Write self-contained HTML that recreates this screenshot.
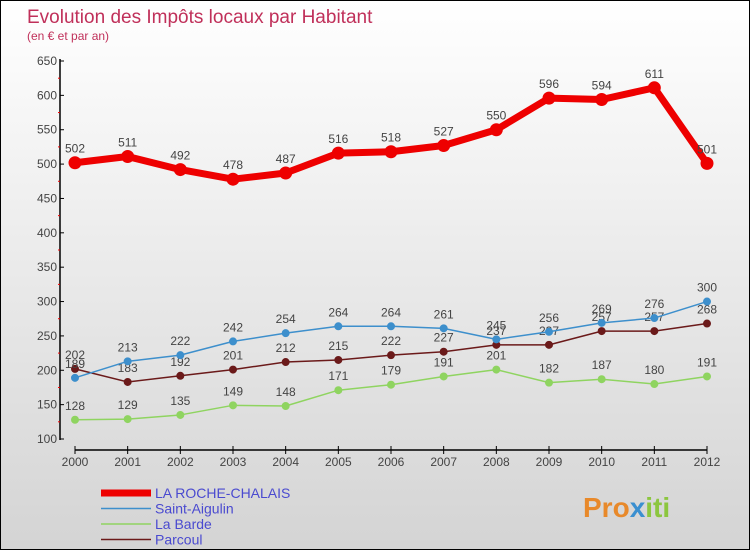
<!DOCTYPE html>
<html><head><meta charset="utf-8"><style>
body{margin:0;}
#c{position:relative;width:748px;height:548px;border:1px solid #000;background:linear-gradient(#fff,#d4d4d4);font-family:"Liberation Sans",sans-serif;overflow:hidden}
</style></head><body>
<div id="c">
<svg id="s" width="748" height="548" xmlns="http://www.w3.org/2000/svg">
<text x="26" y="22" font-size="19" fill="#c0305a">Evolution des Impôts locaux par Habitant</text>
<text x="26" y="39" font-size="12" fill="#c0305a">(en € et par an)</text>
<g id="axes"></g><g id="series"></g><g id="legend"></g>
<text x="582" y="516" font-size="28" font-weight="bold" fill="#e8892a">Pro<tspan fill="#3a8fd0">x</tspan><tspan fill="#8cc63f">iti</tspan></text>
</svg>
</div>
<script>
const years=[2000,2001,2002,2003,2004,2005,2006,2007,2008,2009,2010,2011,2012];
const yTicks=[100,150,200,250,300,350,400,450,500,550,600,650];
const roche=[502,511,492,478,487,516,518,527,550,596,594,611,501];
const aigulin=[189,213,222,242,254,264,264,261,245,256,269,276,300];
const barde=[128,129,135,149,148,171,179,191,201,182,187,180,191];
const parcoul=[202,183,192,201,212,215,222,227,237,237,257,257,268];
const names=["LA ROCHE-CHALAIS","Saint-Aigulin","La Barde","Parcoul"];
const NS="http://www.w3.org/2000/svg";
const X=i=>74+i*(632/12);
const Y=v=>438-(v-100)*(378/550);
function el(t,a,p){const e=document.createElementNS(NS,t);for(const k in a)e.setAttribute(k,a[k]);p.appendChild(e);return e;}
const ax=document.getElementById('axes');
let l=el('line',{x1:59,y1:58,x2:59,y2:439,stroke:'#000','stroke-width':1.5},ax);


l=el('line',{x1:74,y1:449,x2:706,y2:449,stroke:'#000','stroke-width':1.5},ax);


yTicks.forEach(v=>{
 el('line',{x1:59,y1:Y(v),x2:63,y2:Y(v),stroke:'#000'},ax);
 if(v<650) el('line',{x1:57,y1:Y(v+25),x2:59,y2:Y(v+25),stroke:'#e00'},ax);
 const t=el('text',{x:56,y:Y(v)+4,'font-size':12,fill:'#444','text-anchor':'end'},ax);t.textContent=v;
 
 
});
years.forEach((y,i)=>{
 el('line',{x1:X(i),y1:445,x2:X(i),y2:453,stroke:'#000'},ax);
 const t=el('text',{x:X(i),y:465,'font-size':12,fill:'#444','text-anchor':'middle'},ax);t.textContent=y;
 
 
});
const sg=document.getElementById('series');
function draw(data,color,w,r,name,dot){
 const g=el('g',{},sg);
 
 
 el('polyline',{points:data.map((v,i)=>X(i)+','+Y(v)).join(' '),fill:'none',stroke:color,'stroke-width':w,'stroke-linejoin':'round'},g);
 data.forEach((v,i)=>{
  const c=el('circle',{cx:X(i),cy:Y(v),r:r,fill:dot,stroke:color,'stroke-width':1},g);
  
  
  const t=el('text',{x:X(i),y:Y(v)-10,'font-size':12,fill:'#444','text-anchor':'middle'},g);t.textContent=v;
  
  
 });
}
draw(barde,'#8fd460',1.5,3.5,'series-la-barde','#8fd460');
draw(parcoul,'#6b1a1a',1.5,3.5,'series-parcoul','#6b1a1a');
draw(aigulin,'#3d8fcc',1.5,3.5,'series-saint-aigulin','#3d8fcc');
draw(roche,'#ee0000',7,6,'series-la-roche-chalais','#ee0000');
const lg=document.getElementById('legend');
const cols=['#ee0000','#3d8fcc','#8fd460','#6b1a1a'],ws=[7,1.5,1.5,1.5];
names.forEach((n,i)=>{
 const g=el('g',{},lg);
 
 
 const y=492+i*15.5;
 el('line',{x1:100,y1:y,x2:150,y2:y,stroke:cols[i],'stroke-width':ws[i]},g);
 const t=el('text',{x:154,y:y+5,'font-size':14,fill:'#4a4ad0'},g);t.textContent=n;
});
</script>
</body></html>
